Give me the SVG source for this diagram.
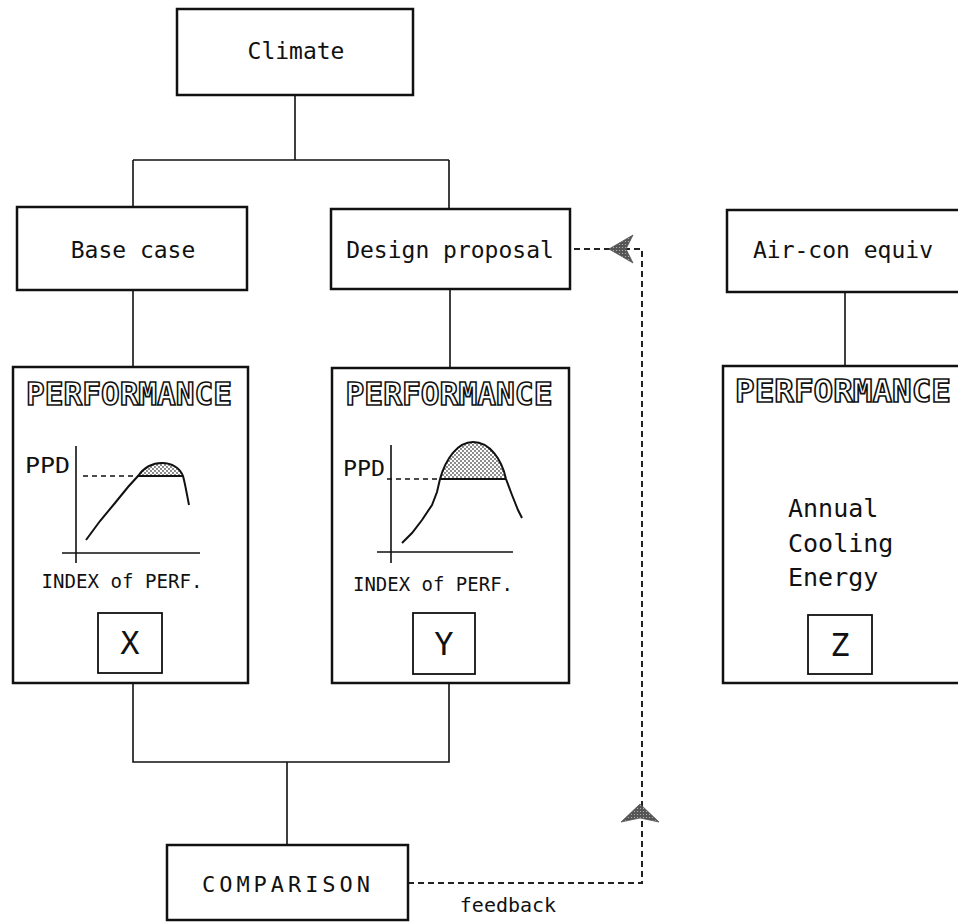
<svg xmlns="http://www.w3.org/2000/svg" width="958" height="923" viewBox="0 0 958 923">
<defs>
<pattern id="dots" width="4" height="4" patternUnits="userSpaceOnUse">
<rect width="4" height="4" fill="#fff"/>
<circle cx="1" cy="1" r="0.9" fill="#555"/>
<circle cx="3" cy="3" r="0.9" fill="#555"/>
</pattern>
<pattern id="dots2" width="3" height="3" patternUnits="userSpaceOnUse">
<rect width="3" height="3" fill="#555"/>
<circle cx="1.5" cy="1.5" r="0.6" fill="#bbb"/>
</pattern>
</defs>
<style>
.box{fill:#fff;stroke:#111;stroke-width:2.5}
.sm{fill:#fff;stroke:#111;stroke-width:1.8}
.ln{fill:none;stroke:#111;stroke-width:1.6}
.dash{fill:none;stroke:#222;stroke-width:2;stroke-dasharray:6 4}
.t{font-family:"DejaVu Sans Mono","Liberation Mono",monospace;fill:#111}
.perf{font-family:"DejaVu Sans Mono","Liberation Mono",monospace;font-weight:bold;font-size:32px;fill:#fff;stroke:#111;stroke-width:1.6;text-anchor:middle}
.curve{fill:none;stroke:#111;stroke-width:2}
.arr{fill:url(#dots2);stroke:#555;stroke-width:0.8}
</style>
<rect width="958" height="923" fill="#fff"/>
<g id="connectors">
<path class="ln" d="M295,95 V160 M133,160 H449 M133,160 V207 M449,160 V210"/>
<path class="ln" d="M133,290 V367 M450,288 V368 M845,292 V365"/>
<path class="ln" d="M133,683 V762 H449 V683 M287,762 V845"/>
<path class="dash" d="M408,883 H642 V249 H570"/>
<polygon class="arr" points="640,804 659,822 640,818 621,822"/>
<polygon class="arr" points="609,249 633,235 626,249 633,263"/>
<text class="t" x="508" y="912" font-size="20" text-anchor="middle">feedback</text>
</g>
<g id="climate">
<rect class="box" x="177" y="9" width="236" height="86"/>
<text class="t" x="296" y="59" font-size="23" text-anchor="middle">Climate</text>
</g>
<g id="base-case">
<rect class="box" x="17" y="207" width="230" height="83"/>
<text class="t" x="133" y="258" font-size="23" text-anchor="middle">Base case</text>
</g>
<g id="design-proposal">
<rect class="box" x="331" y="209" width="239" height="80"/>
<text class="t" x="450" y="258" font-size="23" text-anchor="middle">Design proposal</text>
</g>
<g id="air-con">
<rect class="box" x="727" y="210" width="233" height="82"/>
<text class="t" x="843" y="258" font-size="23" text-anchor="middle">Air-con equiv</text>
</g>
<g id="perf-x">
<rect class="box" x="13" y="367" width="235" height="316"/>
<text class="perf" x="129" y="405" textLength="206" lengthAdjust="spacingAndGlyphs">PERFORMANCE</text>
<path class="ln" d="M76,446 V563 M62,553 H200"/>
<path fill="none" stroke="#111" stroke-width="1.6" stroke-dasharray="5 4" d="M83,476 H138"/>
<text class="t" x="25" y="473" font-size="21" textLength="45" lengthAdjust="spacingAndGlyphs">PPD</text>
<path d="M138,476 C145,466 155,463 162,463 C172,463 180,468 183,476 Z" fill="url(#dots)"/>
<path class="curve" d="M86,540 L100,521 L115,503 L128,487 L138,476 C145,466 155,463 162,463 C172,463 180,468 183,476 C185,483 187,495 189,505 M138,476 H183"/>
<text class="t" x="122" y="588" font-size="20" text-anchor="middle" textLength="161" lengthAdjust="spacingAndGlyphs">INDEX of PERF.</text>
<rect class="sm" x="98" y="613" width="64" height="60"/>
<text class="t" x="130" y="654" font-size="32" text-anchor="middle">X</text>
</g>
<g id="perf-y">
<rect class="box" x="332" y="368" width="237" height="315"/>
<text class="perf" x="449" y="405" textLength="207" lengthAdjust="spacingAndGlyphs">PERFORMANCE</text>
<path class="ln" d="M391,445 V563 M377,552 H513"/>
<path fill="none" stroke="#111" stroke-width="1.6" stroke-dasharray="5 4" d="M387,479 H440"/>
<text class="t" x="343" y="476" font-size="21" textLength="42" lengthAdjust="spacingAndGlyphs">PPD</text>
<path d="M440,479 C446,458 458,442 473,442 C490,442 502,460 506,479 Z" fill="url(#dots)"/>
<path class="curve" d="M402,543 L412,533 L422,520 L432,505 L437,492 L440,479 C446,458 458,442 473,442 C490,442 502,460 506,479 L512,495 L518,510 L522,518 M440,479 H506"/>
<text class="t" x="433" y="591" font-size="20" text-anchor="middle" textLength="160" lengthAdjust="spacingAndGlyphs">INDEX of PERF.</text>
<rect class="sm" x="413" y="613" width="62" height="61"/>
<text class="t" x="444" y="655" font-size="32" text-anchor="middle">Y</text>
</g>
<g id="perf-z">
<rect class="box" x="723" y="366" width="240" height="317"/>
<text class="perf" x="843" y="402" textLength="216" lengthAdjust="spacingAndGlyphs">PERFORMANCE</text>
<text class="t" x="788" y="517" font-size="25">Annual</text>
<text class="t" x="788" y="552" font-size="25">Cooling</text>
<text class="t" x="788" y="586" font-size="25">Energy</text>
<rect class="sm" x="808" y="615" width="64" height="59"/>
<text class="t" x="840" y="656" font-size="32" text-anchor="middle">Z</text>
</g>
<g id="comparison">
<rect class="box" x="167" y="845" width="241" height="75"/>
<text class="t" x="286" y="892" font-size="22" text-anchor="middle" textLength="168" lengthAdjust="spacing">COMPARISON</text>
</g>
</svg>
